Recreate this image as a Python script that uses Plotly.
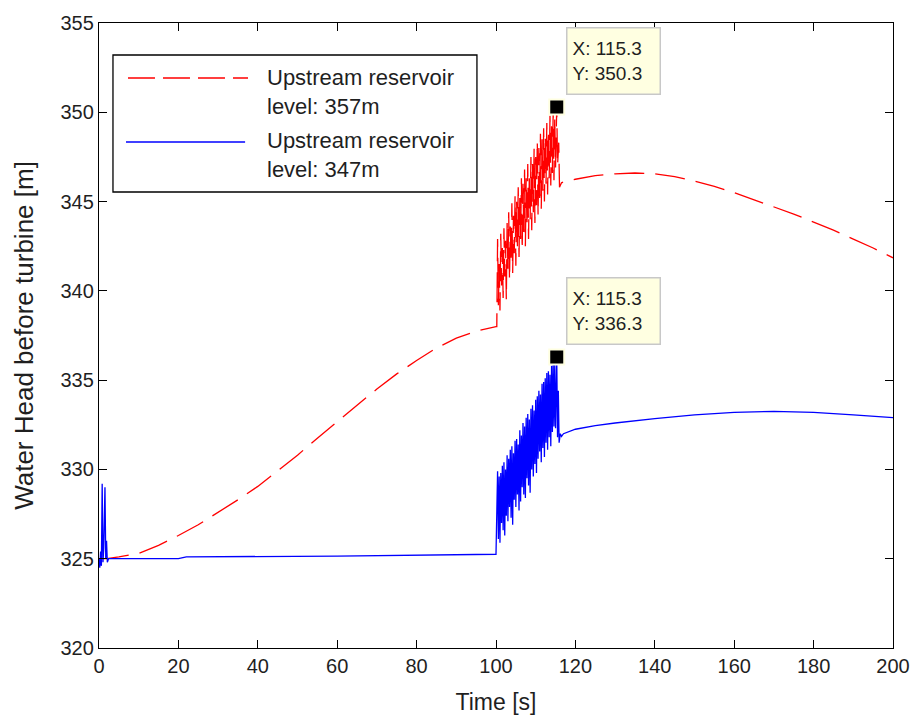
import plotly.graph_objects as go

# ---------------- data ----------------
# Upstream reservoir level 357 m (red dashed)
red_pre_t = [0, 2, 5, 10, 15, 20, 25, 30, 35, 40, 45, 50, 55, 60, 65, 70, 75, 80, 85, 90, 95, 100, 100.2]
red_pre_v = [325.0, 325.0, 325.1, 325.3, 325.75, 326.3, 326.9, 327.6, 328.3, 329.05, 329.9, 330.8,
             331.75, 332.7, 333.6, 334.5, 335.35, 336.1, 336.8, 337.35, 337.75, 338.0, 338.0]
red_osc_t = [100.4, 100.6, 100.8, 101.0, 101.2, 101.4, 101.6, 101.8, 102.0, 102.2, 102.4, 102.6,
             102.8, 103.0, 103.2, 103.4, 103.6, 103.8, 104.0, 104.2, 104.4, 104.6, 104.8, 105.0,
             105.2, 105.4, 105.6, 105.8, 106.0, 106.2, 106.4, 106.6, 106.8, 107.0, 107.2, 107.4,
             107.6, 107.8, 108.0, 108.2, 108.4, 108.6, 108.8, 109.0, 109.2, 109.4, 109.6, 109.8,
             110.0, 110.2, 110.4, 110.6, 110.8, 111.0, 111.2, 111.4, 111.6, 111.8, 112.0, 112.2,
             112.4, 112.6, 112.8, 113.0, 113.2, 113.4, 113.6, 113.8, 114.0, 114.2, 114.4, 114.6,
             114.8, 115.0, 115.3, 115.5, 115.8, 116.0, 116.5]
red_osc_v = [342.9, 339.2, 341.5, 338.9, 343.2, 340.3, 342.4, 339.6, 343.5, 340.8, 342.8, 339.5,
             343.8, 341.2, 344.4, 340.6, 343.6, 341.7, 344.9, 341.0, 344.2, 342.1, 345.3, 341.4,
             345.0, 342.5, 345.8, 341.9, 345.2, 342.9, 346.3, 342.3, 346.0, 343.3, 346.8, 342.5,
             346.3, 343.6, 347.1, 342.9, 346.6, 344.0, 347.5, 343.4, 347.2, 344.4, 348.0, 343.8,
             347.5, 344.8, 348.4, 344.2, 348.0, 345.2, 348.8, 344.6, 348.5, 345.6, 349.1, 345.0,
             348.7, 346.0, 349.4, 345.4, 349.0, 346.3, 349.8, 345.9, 349.5, 346.6, 350.0, 346.2,
             349.7, 346.9, 350.3, 347.0, 348.3, 345.8, 346.05]
red_post_t = [117, 120, 125, 130, 135, 140, 145, 150, 155, 160, 165, 170, 175, 180, 185, 190, 195, 200]
red_post_v = [346.1, 346.25, 346.45, 346.55, 346.6, 346.55, 346.4, 346.15, 345.85, 345.5, 345.1,
              344.7, 344.3, 343.85, 343.4, 342.9, 342.4, 341.85]

# Upstream reservoir level 347 m (blue solid)
blue_pre_t = [0.0, 0.2, 0.4, 0.6, 0.8, 1.0, 1.2, 1.5, 1.7, 1.9, 2.1, 2.4, 3, 20, 22, 60, 100]
blue_pre_v = [325.0, 324.5, 325.4, 324.6, 329.2, 324.8, 325.6, 329.0, 325.0, 326.0, 324.8, 325.0,
              325.0, 325.0, 325.1, 325.15, 325.25]
blue_osc_t = [100.4, 100.6, 100.8, 101.0, 101.2, 101.4, 101.6, 101.8, 102.0, 102.2, 102.4, 102.6,
              102.8, 103.0, 103.2, 103.4, 103.6, 103.8, 104.0, 104.2, 104.4, 104.6, 104.8, 105.0,
              105.2, 105.4, 105.6, 105.8, 106.0, 106.2, 106.4, 106.6, 106.8, 107.0, 107.2, 107.4,
              107.6, 107.8, 108.0, 108.2, 108.4, 108.6, 108.8, 109.0, 109.2, 109.4, 109.6, 109.8,
              110.0, 110.2, 110.4, 110.6, 110.8, 111.0, 111.2, 111.4, 111.6, 111.8, 112.0, 112.2,
              112.4, 112.6, 112.8, 113.0, 113.2, 113.4, 113.6, 113.8, 114.0, 114.2, 114.4, 114.6,
              114.8, 115.0, 115.3, 115.5, 115.7, 115.9, 116.2, 116.5]
blue_osc_v = [329.9, 326.1, 329.6, 325.9, 329.8, 327.0, 330.2, 326.6, 330.4, 326.3, 330.0, 327.4,
              330.8, 327.1, 330.6, 327.9, 331.1, 327.3, 331.3, 326.9, 330.9, 328.3, 331.6, 327.9,
              331.7, 328.6, 331.4, 327.7, 332.2, 328.2, 331.9, 329.0, 332.6, 328.6, 332.4, 328.4,
              332.9, 329.5, 333.1, 329.1, 332.8, 328.7, 333.4, 330.0, 333.6, 329.6, 333.3, 330.3,
              333.9, 329.8, 334.1, 330.6, 334.4, 331.0, 334.2, 330.4, 334.8, 331.2, 334.9, 330.7,
              335.1, 331.5, 335.4, 331.1, 335.5, 331.8, 335.3, 331.3, 335.8, 332.1, 336.0, 332.4,
              335.9, 332.3, 336.3, 331.8, 334.4, 331.5, 332.0, 331.85]
blue_post_t = [117, 120, 125, 130, 140, 150, 160, 170, 180, 190, 200]
blue_post_v = [332.0, 332.25, 332.45, 332.6, 332.85, 333.05, 333.2, 333.25, 333.2, 333.05, 332.9]

red_t = red_pre_t + red_osc_t + red_post_t
red_v = red_pre_v + red_osc_v + red_post_v
blue_t = blue_pre_t + blue_osc_t + blue_post_t
blue_v = blue_pre_v + blue_osc_v + blue_post_v

# data tips
tip_x = [115.3, 115.3]
tip_y = [350.3, 336.3]

legend_names = ["Upstream reservoir<br>level: 357m", "Upstream reservoir<br>level: 347m"]

x_ticks = [0, 20, 40, 60, 80, 100, 120, 140, 160, 180, 200]
y_ticks = [320, 325, 330, 335, 340, 345, 350, 355]

FONT = "Liberation Sans, Arial, Helvetica, sans-serif"
TXT = "#1f1f1f"

fig = go.Figure()
fig.add_trace(go.Scatter(x=red_t, y=red_v, mode="lines", name=legend_names[0],
                         line=dict(color="#ff0000", width=1.3, dash="30px,11px"),
                         showlegend=False))
fig.add_trace(go.Scatter(x=blue_t, y=blue_v, mode="lines", name=legend_names[1],
                         line=dict(color="#0000ff", width=1.3),
                         showlegend=False))
fig.add_trace(go.Scatter(x=tip_x, y=tip_y, mode="markers",
                         marker=dict(symbol="square", size=15, color="black",
                                     line=dict(color="#ffffe1", width=2)),
                         showlegend=False, hoverinfo="skip"))

# data tip boxes
for tx, ty in zip(tip_x, tip_y):
    fig.add_annotation(x=tx, y=ty, xref="x", yref="y",
                       text=f"X: {tx:.1f}<br>Y: {ty:.1f}",
                       showarrow=False, xanchor="left", yanchor="bottom",
                       xshift=9, yshift=12, align="left", valign="middle",
                       width=82, height=55,
                       bgcolor="#ffffe1", bordercolor="#c8c8c8", borderwidth=1.5, borderpad=5,
                       font=dict(family=FONT, size=19, color=TXT))

# manual legend (MATLAB style)
fig.add_shape(type="rect", xref="paper", yref="paper", x0=0.0176, x1=0.476, y0=0.7296, y1=0.9488,
              line=dict(color="black", width=1.3), fillcolor="white", layer="above")
fig.add_shape(type="line", xref="paper", yref="paper", x0=0.0365, x1=0.1877, y0=0.912, y1=0.912,
              line=dict(color="#ff0000", width=1.3, dash="27px,8px"), layer="above")
fig.add_shape(type="line", xref="paper", yref="paper", x0=0.034, x1=0.184, y0=0.8096, y1=0.8096,
              line=dict(color="#0000ff", width=1.3), layer="above")
fig.add_annotation(x=0.209, y=0.8888, xref="paper", yref="paper", text=legend_names[0],
                   showarrow=False, xanchor="left", yanchor="middle", align="left",
                   font=dict(family=FONT, size=22, color=TXT))
fig.add_annotation(x=0.209, y=0.7888, xref="paper", yref="paper", text=legend_names[1],
                   showarrow=False, xanchor="left", yanchor="middle", align="left",
                   font=dict(family=FONT, size=22, color=TXT))

axis_common = dict(showline=True, linecolor="black", linewidth=1.3, mirror="ticks",
                   ticks="inside", ticklen=8, tickwidth=1.3, tickcolor="black",
                   showgrid=False, zeroline=False,
                   tickfont=dict(family=FONT, size=20, color=TXT))

fig.update_xaxes(range=[0, 200], tickvals=x_ticks, ticktext=[str(v) for v in x_ticks],
                 title=dict(text="Time [s]", font=dict(family=FONT, size=23, color=TXT), standoff=17),
                 **axis_common)
fig.update_yaxes(range=[320, 355], tickvals=y_ticks, ticktext=[str(v) for v in y_ticks],
                 title=dict(text="Water Head before turbine [m]",
                            font=dict(family=FONT, size=26, color=TXT), standoff=19),
                 **axis_common)

# page body has an 8px margin, so the figure is 8px smaller and offsets compensated
fig.update_layout(width=910, height=708, paper_bgcolor="white", plot_bgcolor="white",
                  margin=dict(l=91, r=25, t=15, b=68, autoexpand=False),
                  showlegend=False)

fig.write_html("out.html")
